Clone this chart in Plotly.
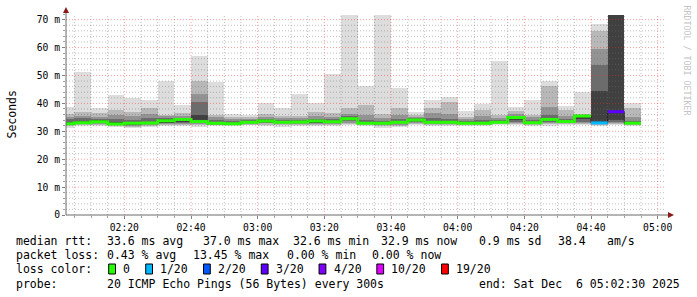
import plotly.graph_objects as go
import pandas as pd

# ---------------- data ----------------
graph_start = "2025-12-06 02:02:30"
graph_end = "2025-12-06 05:02:30"
interval_end = list(pd.date_range("2025-12-06 02:05", "2025-12-06 04:55", freq="5min"))

median_rtt = [32.7, 33.1, 33.4, 32.6, 32.9, 33.0, 33.8, 34.2, 33.5, 32.9,
              32.7, 33.2, 33.7, 33.2, 33.3, 33.7, 33.4, 34.5, 32.9, 32.9,
              33.2, 34.0, 33.2, 33.2, 32.9, 32.9, 33.2, 34.9, 33.1, 34.2,
              33.5, 35.5, 33.0, 37.0, 32.9]
loss_count = [0, 0, 0, 0, 0, 0, 0, 0, 0, 0,
              0, 0, 0, 0, 0, 0, 0, 0, 0, 0,
              0, 0, 0, 0, 0, 0, 0, 0, 0, 0,
              0, 0, 1, 3, 0]
ping_min = [31.3, 31.9, 32.0, 31.6, 31.1, 31.4, 31.9, 32.0, 31.5, 31.8,
            32.0, 32.1, 32.0, 31.7, 31.9, 31.9, 32.0, 32.1, 31.8, 31.3,
            31.6, 32.2, 31.8, 31.8, 32.0, 31.9, 32.1, 32.1, 31.9, 32.0,
            32.1, 32.2, 32.0, 32.3, 32.0]
ping_max = [38.6, 51.2, 38.2, 42.9, 41.9, 41.2, 48.0, 39.5, 56.9, 47.6,
            36.1, 35.8, 40.2, 38.3, 43.3, 40.2, 50.4, 71.8, 46.1, 71.8,
            45.5, 36.9, 41.1, 42.3, 37.1, 39.9, 55.1, 38.6, 41.2, 48.1,
            39.0, 44.0, 68.3, 71.8, 40.2]
band2_lo = [31.8, 32.3, 32.4, 31.9, 31.6, 31.9, 32.2, 32.3, 32.1, 32.1,
            32.2, 32.4, 32.4, 32.2, 32.3, 32.2, 32.3, 32.6, 32.2, 31.9,
            32.0, 32.6, 32.2, 32.2, 32.3, 32.2, 32.5, 32.5, 32.3, 32.5,
            32.5, 32.6, 32.3, 32.6, 32.3]
band2_hi = [36.2, 36.8, 36.5, 37.5, 37.0, 38.3, 36.0, 36.4, 48.2, 36.0,
            35.2, 35.1, 36.2, 35.5, 35.6, 37.0, 36.5, 38.5, 39.4, 36.2,
            38.5, 35.8, 38.5, 40.5, 35.3, 37.6, 36.0, 37.3, 36.0, 46.2,
            37.5, 36.3, 66.0, 71.8, 38.3]
band3_lo = [32.1, 32.6, 32.7, 32.1, 32.0, 32.2, 32.5, 32.6, 32.6, 32.4,
            32.4, 32.7, 32.8, 32.5, 32.6, 32.5, 32.6, 33.0, 32.5, 32.3,
            32.4, 33.0, 32.5, 32.6, 32.5, 32.5, 32.8, 33.0, 32.6, 32.9,
            32.8, 33.0, 32.6, 32.9, 32.5]
band3_hi = [35.3, 35.5, 35.2, 35.8, 35.6, 36.2, 35.5, 35.4, 43.5, 35.0,
            34.5, 34.4, 35.2, 34.6, 34.6, 35.4, 35.2, 36.2, 36.0, 34.8,
            35.8, 35.2, 36.5, 36.2, 34.3, 35.5, 34.8, 36.3, 35.0, 38.8,
            35.6, 36.0, 59.5, 71.8, 35.2]
band4_lo = [32.3, 32.8, 32.9, 32.3, 32.3, 32.5, 32.8, 33.0, 33.0, 32.6,
            32.5, 32.9, 33.1, 32.8, 32.8, 32.8, 32.9, 33.6, 32.7, 32.6,
            32.8, 33.4, 32.8, 32.9, 32.7, 32.7, 33.0, 33.5, 32.8, 33.3,
            33.0, 33.5, 32.8, 33.2, 32.6]
band4_hi = [34.4, 34.6, 34.3, 34.5, 34.0, 34.6, 34.8, 34.8, 40.5, 34.2,
            33.6, 33.9, 34.4, 33.9, 33.9, 34.4, 34.3, 35.4, 34.2, 33.8,
            34.3, 34.6, 34.8, 34.5, 33.6, 34.0, 34.0, 35.6, 34.0, 35.8,
            34.5, 35.9, 53.8, 71.8, 33.8]
band5_lo = [32.5, 33.0, 33.1, 32.4, 32.6, 32.7, 33.1, 33.4, 33.3, 32.8,
            32.6, 33.0, 33.4, 33.0, 33.0, 33.2, 33.1, 34.0, 32.8, 32.8,
            33.0, 33.7, 33.0, 33.0, 32.8, 32.8, 33.1, 34.0, 32.9, 33.7,
            33.2, 34.3, 33.0, 34.0, 32.7]
band5_hi = [33.4, 33.8, 33.9, 33.5, 33.3, 33.5, 34.3, 34.5, 36.0, 33.5,
            33.1, 33.5, 34.0, 33.5, 33.6, 33.9, 33.7, 34.9, 33.5, 33.3,
            33.6, 34.3, 33.7, 33.7, 33.2, 33.4, 33.6, 35.2, 33.5, 34.8,
            33.9, 35.7, 44.6, 71.8, 33.2]

loss_labels = ["0", "1/20", "2/20", "3/20", "4/20", "10/20", "19/20"]
loss_levels = [0, 1, 2, 3, 4, 10, 19]
loss_colors = ["#26ff00", "#00b8ff", "#0059ff", "#5e00ff", "#7e00ff", "#dd00ff", "#ff0000"]

y_tick_vals = [0, 10, 20, 30, 40, 50, 60, 70]
y_tick_text = ["0", "10 m", "20 m", "30 m", "40 m", "50 m", "60 m", "70 m"]

rtt_row = [("median rtt:", 16), ("33.6 ms avg", 107.3), ("37.0 ms max", 203.3),
           ("32.6 ms min", 293.3), ("32.9 ms now", 381), ("0.9 ms sd", 479),
           ("38.4", 558), ("am/s", 607)]
loss_row = [("packet loss:", 16), ("0.43 % avg", 107.3), ("13.45 % max", 192.7),
            ("0.00 % min", 286.7), ("0.00 % now", 372.4)]
probe_row = [("probe:", 16), ("20 ICMP Echo Pings (56 Bytes) every 300s", 107.3),
             ("end: Sat Dec  6 05:02:30 2025", 479)]

# ---------------- layout geometry ----------------
W, H = 697, 297
PL, PT, PW, PH = 66, 14, 600, 201
PX_PER_MS = 2.7905
Y_TOP = PH / PX_PER_MS
MONO = "DejaVu Sans Mono"


def px(x):
    return (x - PL) / PW


def py(y):
    return (PT + PH - y) / PH


step = pd.Timedelta("5min")
starts = [t - step for t in interval_end]
centers = [t - step / 2 for t in interval_end]

fig = go.Figure()

# smoke bands
shades = [221, 184, 147, 108, 64]
bands = [(ping_min, ping_max), (band2_lo, band2_hi), (band3_lo, band3_hi),
         (band4_lo, band4_hi), (band5_lo, band5_hi)]
for (lo, hi), s in zip(bands, shades):
    fig.add_trace(go.Bar(
        x=centers, base=lo, y=[h - l for l, h in zip(lo, hi)],
        width=300000, marker=dict(color=f"rgb({s},{s},{s})", line=dict(width=0)),
        hoverinfo="skip", showlegend=False))

# dark thin median line
fig.add_trace(go.Scatter(
    x=starts + [interval_end[-1]], y=median_rtt + [median_rtt[-1]],
    mode="lines", line=dict(color="#202020", width=1, shape="hv"),
    hoverinfo="skip", showlegend=False))


def color_for_loss(n):
    c = loss_colors[0]
    for lv, col in zip(loss_levels, loss_colors):
        if n >= lv:
            c = col
    return c


seg_colors = [color_for_loss(n) for n in loss_count]
traces = {}
i = 0
N = len(median_rtt)
while i < N:
    j = i
    while j + 1 < N and seg_colors[j + 1] == seg_colors[i]:
        j += 1
    xs, ys = traces.setdefault(seg_colors[i], ([], []))
    xs.extend(starts[i:j + 1] + [interval_end[j], None])
    ys.extend(median_rtt[i:j + 1] + [median_rtt[j], None])
    i = j + 1
for col, (xs, ys) in traces.items():
    fig.add_trace(go.Scatter(x=xs, y=ys, mode="lines",
                             line=dict(color=col, width=3, shape="hv"),
                             connectgaps=False, hoverinfo="skip", showlegend=False))

shapes = []
# grid (drawn above data, like rrdtool)
minor_col = "rgba(110,110,110,0.45)"
major_col = "rgba(255,40,40,0.45)"
for t in pd.date_range("2025-12-06 02:05", "2025-12-06 05:00", freq="5min"):
    col = major_col if t.minute % 20 == 0 else minor_col
    shapes.append(dict(type="line", xref="x", yref="y", x0=t, x1=t, y0=0, y1=Y_TOP,
                       line=dict(color=col, width=1, dash="1px,2px"), layer="above"))
for v in range(2, 72, 2):
    col = major_col if v % 10 == 0 else minor_col
    shapes.append(dict(type="line", xref="x", yref="y", x0=graph_start, x1=graph_end,
                       y0=v, y1=v, line=dict(color=col, width=1, dash="1px,2px"),
                       layer="above"))

# axis lines and arrows
axis_col = "#6a6a6a"
arrow_col = "#8b1a1a"
shapes.append(dict(type="line", xref="paper", yref="paper", x0=px(66), x1=px(670),
                   y0=py(215), y1=py(215), line=dict(color=axis_col, width=1), layer="above"))
shapes.append(dict(type="line", xref="paper", yref="paper", x0=px(66), x1=px(66),
                   y0=py(215), y1=py(11), line=dict(color=axis_col, width=1), layer="above"))
shapes.append(dict(type="path", xref="paper", yref="paper",
                   path=f"M {px(66)},{py(7)} L {px(63)},{py(13)} L {px(69)},{py(13)} Z",
                   fillcolor=arrow_col, line=dict(width=0), layer="above"))
shapes.append(dict(type="path", xref="paper", yref="paper",
                   path=f"M {px(674)},{py(215)} L {px(668)},{py(212)} L {px(668)},{py(218)} Z",
                   fillcolor=arrow_col, line=dict(width=0), layer="above"))

annotations = []


def add_text(text, x, y, size=11.5, color="#000000", angle=0, xanchor="left"):
    annotations.append(dict(text=text.replace(" ", "\u00a0"), x=px(x), y=py(y),
                            xref="paper", yref="paper", showarrow=False,
                            xanchor=xanchor, yanchor="middle", textangle=angle,
                            borderpad=0, borderwidth=0,
                            font=dict(family=MONO, size=size, color=color)))


for txt, x in rtt_row:
    add_text(txt, x, 241.3)
for txt, x in loss_row:
    add_text(txt, x, 255.3)
add_text("loss color:", 16, 269.3)
bx = 108.7
for lab, col in zip(loss_labels, loss_colors):
    shapes.append(dict(type="rect", xref="paper", yref="paper",
                       x0=px(bx), x1=px(bx + 6.8), y0=py(264), y1=py(274),
                       fillcolor=col, line=dict(color="#000000", width=1), layer="above"))
    tx = bx + 14.6
    add_text(lab, tx, 269.3)
    bx = tx + len(lab) * 6.92 + 15.5
for txt, x in probe_row:
    add_text(txt, x, 283.7)

add_text("Seconds", 11, 114.5, angle=-90, xanchor="center")
add_text("RRDTOOL / TOBI OETIKER", 686.5, 60, size=8.3, color="#c4c4c4", angle=90,
         xanchor="center")

fig.update_layout(
    width=W, height=H,
    margin=dict(l=PL, r=W - PL - PW, t=PT, b=H - PT - PH, pad=0),
    paper_bgcolor="#ffffff", plot_bgcolor="#ffffff",
    barmode="overlay", bargap=0, showlegend=False,
    shapes=shapes, annotations=annotations,
    xaxis=dict(type="date", range=[graph_start, graph_end], tickformat="%H:%M",
               tick0="2025-12-06 02:00", dtick=20 * 60 * 1000,
               showgrid=False, zeroline=False, showline=False,
               ticks="outside", ticklen=3, tickcolor="#808080", tickwidth=1,
               minor=dict(dtick=5 * 60 * 1000, ticks="outside", ticklen=2,
                          tickcolor="#a0a0a0", showgrid=False),
               tickfont=dict(family=MONO, size=9.7, color="#000000"), fixedrange=True),
    yaxis=dict(range=[0, Y_TOP], tickvals=y_tick_vals, ticktext=y_tick_text,
               showgrid=False, zeroline=False, showline=False,
               ticks="outside", ticklen=3, tickcolor="#808080", tickwidth=1,
               minor=dict(dtick=2, ticks="outside", ticklen=2, tickcolor="#a0a0a0",
                          showgrid=False),
               tickfont=dict(family=MONO, size=9.7, color="#000000"), fixedrange=True),
)

fig.write_html("out.html")
